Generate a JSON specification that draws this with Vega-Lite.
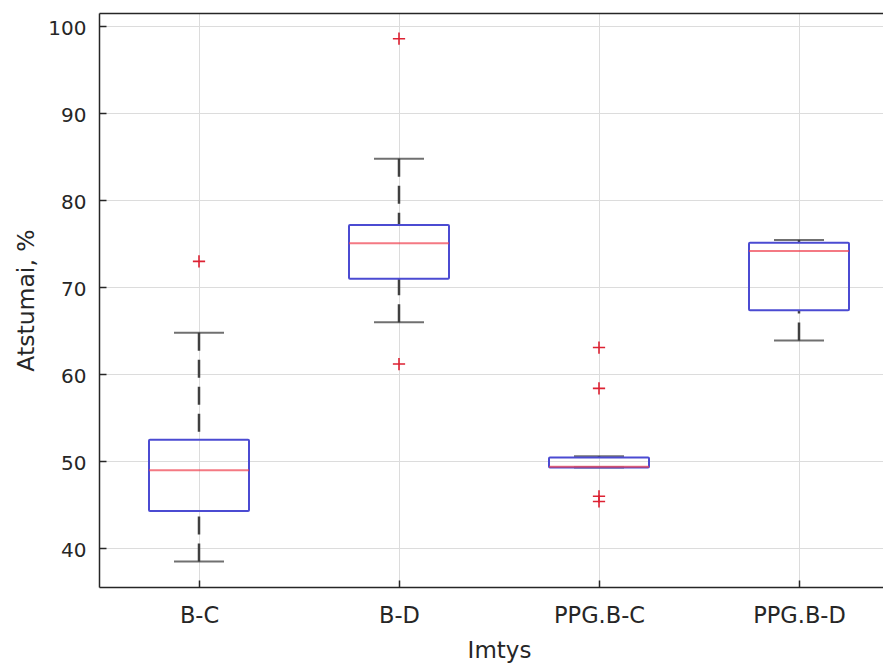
{
  "$schema": "https://vega.github.io/schema/vega-lite/v6.json",
  "autosize": {"type": "none"},
  "padding": {"left": 99, "top": 13, "right": 0, "bottom": 79},
  "width": 784,
  "height": 574,
  "background": "white",
  "config": {
    "view": {"stroke": null},
    "font": "DejaVu Sans"
  },
  "datasets": {
    "boxes": [
      {"group": "B-C", "lower": 38.4, "q1": 44.2, "median": 48.9, "q3": 52.4, "upper": 64.7},
      {"group": "B-D", "lower": 65.9, "q1": 70.9, "median": 75.0, "q3": 77.1, "upper": 84.7},
      {"group": "PPG.B-C", "lower": 49.2, "q1": 49.2, "median": 49.3, "q3": 50.35, "upper": 50.5},
      {"group": "PPG.B-D", "lower": 63.8, "q1": 67.3, "median": 74.1, "q3": 75.05, "upper": 75.35}
    ],
    "outliers": [
      {"group": "B-C", "value": 72.9},
      {"group": "B-D", "value": 98.5},
      {"group": "B-D", "value": 61.1},
      {"group": "PPG.B-C", "value": 63.0},
      {"group": "PPG.B-C", "value": 58.3},
      {"group": "PPG.B-C", "value": 45.9},
      {"group": "PPG.B-C", "value": 45.3}
    ]
  },
  "data": {"name": "boxes"},
  "layer": [
    {
      "mark": {"type": "rule", "color": "#404040", "strokeWidth": 2.5, "strokeDash": [18, 9]},
      "encoding": {
        "x": {
          "field": "group",
          "type": "nominal",
          "sort": ["B-C", "B-D", "PPG.B-C", "PPG.B-D"],
          "scale": {"type": "point", "range": [0, 800], "padding": 0.5},
          "axis": {
            "title": "Imtys",
            "titleFont": "DejaVu Sans",
            "titleFontSize": 23,
            "titleFontWeight": "normal",
            "titleColor": "#262626",
            "titleX": 400,
            "titleY": 70,
            "titleAlign": "center",
            "titleBaseline": "alphabetic",
            "labelAngle": 0,
            "labelFont": "DejaVu Sans",
            "labelFontSize": 22.5,
            "labelColor": "#262626",
            "labelBaseline": "alphabetic",
            "labelPadding": 42,
            "tickSize": -7,
            "tickColor": "#262626",
            "tickWidth": 1.5,
            "domain": true,
            "domainColor": "#262626",
            "domainWidth": 1.5,
            "grid": true,
            "gridColor": "#dcdcdc",
            "gridWidth": 1
          }
        },
        "y": {
          "field": "upper",
          "type": "quantitative",
          "scale": {"domain": [35.47, 101.46], "nice": false, "zero": false},
          "axis": {
            "title": "Atstumai, %",
            "titleFont": "DejaVu Sans",
            "titleFontSize": 23.5,
            "titleFontWeight": "normal",
            "titleColor": "#262626",
            "titleX": -66,
            "titleY": 287,
            "titleAngle": -90,
            "titleAlign": "center",
            "titleBaseline": "alphabetic",
            "values": [40, 50, 60, 70, 80, 90, 100, 101.46],
            "labelExpr": "datum.value % 10 == 0 ? datum.label : ''",
            "labelFont": "DejaVu Sans",
            "labelFontSize": 20,
            "labelColor": "#262626",
            "labelPadding": 20,
            "labelOffset": 3,
            "tickSize": -7,
            "tickColor": {"condition": {"test": "datum.value % 10 != 0", "value": "transparent"}, "value": "#262626"},
            "tickWidth": 1.5,
            "domain": true,
            "domainColor": "#262626",
            "domainWidth": 1.5,
            "grid": true,
            "gridColor": {"condition": {"test": "datum.value % 10 != 0", "value": "#262626"}, "value": "#dcdcdc"},
            "gridWidth": {"condition": {"test": "datum.value % 10 != 0", "value": 1.5}, "value": 1}
          }
        },
        "y2": {"field": "q3"}
      }
    },
    {
      "mark": {"type": "rule", "color": "#404040", "strokeWidth": 2.5, "strokeDash": [18, 9]},
      "encoding": {
        "x": {"field": "group", "type": "nominal", "sort": ["B-C", "B-D", "PPG.B-C", "PPG.B-D"]},
        "y": {"field": "lower", "type": "quantitative"},
        "y2": {"field": "q1"}
      }
    },
    {
      "mark": {"type": "tick", "orient": "horizontal", "color": "#333333", "size": 50, "thickness": 2},
      "encoding": {
        "x": {"field": "group", "type": "nominal", "sort": ["B-C", "B-D", "PPG.B-C", "PPG.B-D"]},
        "y": {"field": "upper", "type": "quantitative"}
      }
    },
    {
      "mark": {"type": "tick", "orient": "horizontal", "color": "#333333", "size": 50, "thickness": 2},
      "encoding": {
        "x": {"field": "group", "type": "nominal", "sort": ["B-C", "B-D", "PPG.B-C", "PPG.B-D"]},
        "y": {"field": "lower", "type": "quantitative"}
      }
    },
    {
      "mark": {"type": "bar", "size": 100, "fill": "transparent", "stroke": "#4b4bd2", "strokeWidth": 2, "cornerRadius": 1},
      "encoding": {
        "x": {"field": "group", "type": "nominal", "sort": ["B-C", "B-D", "PPG.B-C", "PPG.B-D"]},
        "y": {"field": "q1", "type": "quantitative"},
        "y2": {"field": "q3"}
      }
    },
    {
      "mark": {"type": "tick", "orient": "horizontal", "color": "#f0404e", "size": 100, "thickness": 2},
      "encoding": {
        "x": {"field": "group", "type": "nominal", "sort": ["B-C", "B-D", "PPG.B-C", "PPG.B-D"]},
        "y": {"field": "median", "type": "quantitative"}
      }
    },
    {
      "data": {"name": "outliers"},
      "mark": {"type": "point", "shape": "M-1,0H1M0,-1V1", "size": 150, "filled": false, "stroke": "#dd2233", "strokeWidth": 1.6, "opacity": 1},
      "encoding": {
        "x": {"field": "group", "type": "nominal", "sort": ["B-C", "B-D", "PPG.B-C", "PPG.B-D"]},
        "y": {"field": "value", "type": "quantitative"}
      }
    }
  ]
}
